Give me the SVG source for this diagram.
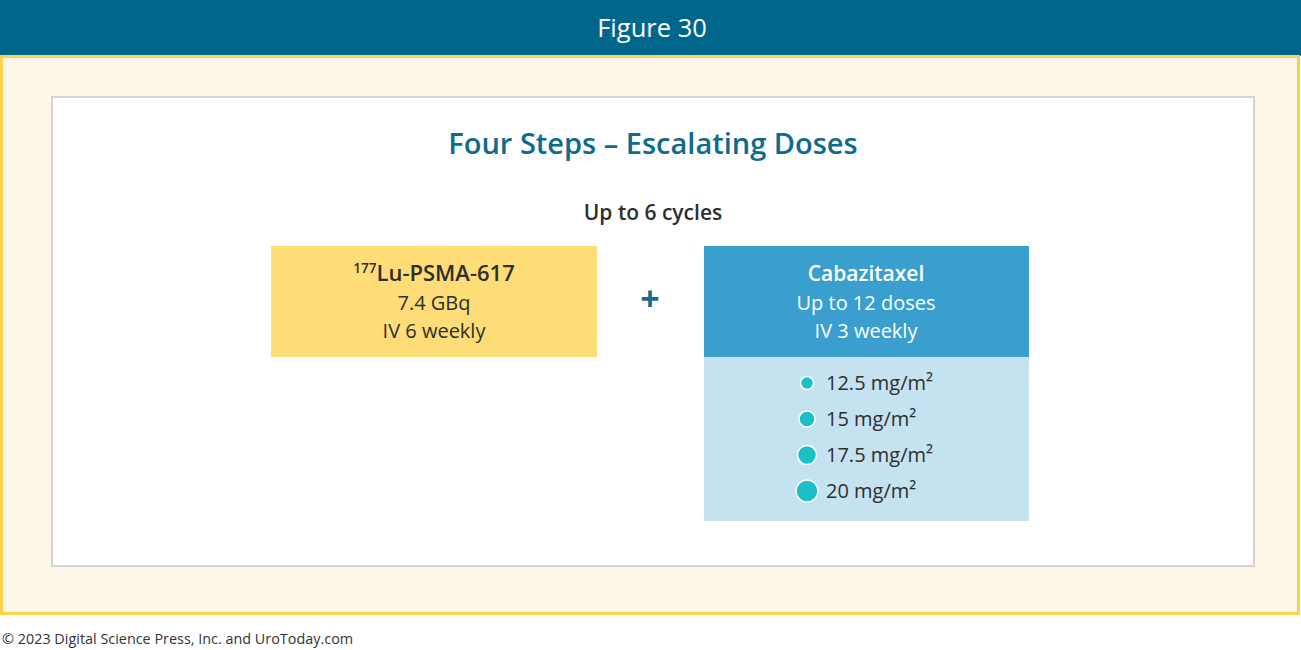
<svg xmlns="http://www.w3.org/2000/svg" width="1301" height="650" viewBox="0 0 1301 650">
<style>
.t{font-family:"Open Sans","Liberation Sans",sans-serif;}
.b{font-weight:600;}
.dk{fill:#2e2e2e;}
.wt{fill:#ffffff;}
.dot{fill:#1bbfc6;stroke:#ffffff;stroke-width:1.5;}
</style>
<rect x="0" y="0" width="1301" height="650" fill="#ffffff"/>
<g id="header">
<rect x="0" y="0" width="1301" height="56" fill="#00668c"/>
<text class="t wt" x="652" y="37" font-size="25.5" text-anchor="middle">Figure 30</text>
</g>
<g id="panel">
<rect x="1.5" y="56.5" width="1297" height="557" fill="#fff8ea" stroke="#fdd34c" stroke-width="3"/>
<rect x="52" y="97" width="1202" height="469" fill="#ffffff" stroke="#d4d4d4" stroke-width="2"/>
</g>
<g id="title">
<text class="t b" x="653" y="154" font-size="29" fill="#0e6a8e" text-anchor="middle">Four Steps – Escalating Doses</text>
<text class="t b dk" x="653" y="220" font-size="21" text-anchor="middle">Up to 6 cycles</text>
</g>
<g id="lu-psma">
<rect x="271" y="246" width="326" height="111" fill="#fedc77"/>
<text class="t dk" x="434" y="281" font-size="22" text-anchor="middle"><tspan font-size="13.5" dy="-8" font-weight="600">177</tspan><tspan dy="8" font-weight="600">Lu-PSMA-617</tspan></text>
<text class="t dk" x="434" y="310" font-size="20" text-anchor="middle">7.4 GBq</text>
<text class="t dk" x="434" y="338" font-size="20" text-anchor="middle">IV 6 weekly</text>
</g>
<g id="plus">
<text class="t" x="650" y="311" font-size="34" font-weight="700" fill="#1a6a90" text-anchor="middle">+</text>
</g>
<g id="cabazitaxel">
<rect x="704" y="246" width="325" height="111" fill="#3a9fcf"/>
<rect x="704" y="357" width="325" height="164" fill="#c4e2f0"/>
<text class="t b wt" x="866" y="281" font-size="21" text-anchor="middle">Cabazitaxel</text>
<text class="t wt" x="866" y="310" font-size="20" text-anchor="middle">Up to 12 doses</text>
<text class="t wt" x="866" y="338" font-size="20" text-anchor="middle">IV 3 weekly</text>
<circle class="dot" cx="807" cy="383" r="6.5"/>
<circle class="dot" cx="807" cy="419" r="8"/>
<circle class="dot" cx="807" cy="455" r="9.5"/>
<circle class="dot" cx="807" cy="491" r="11"/>
<text class="t dk" x="826" y="390" font-size="20">12.5 mg/m²</text>
<text class="t dk" x="826" y="426" font-size="20">15 mg/m²</text>
<text class="t dk" x="826" y="462" font-size="20">17.5 mg/m²</text>
<text class="t dk" x="826" y="498" font-size="20">20 mg/m²</text>
</g>
<g id="footer">
<text class="t" x="2" y="644" font-size="14.4" fill="#333333">© 2023 Digital Science Press, Inc. and UroToday.com</text>
</g>
</svg>
